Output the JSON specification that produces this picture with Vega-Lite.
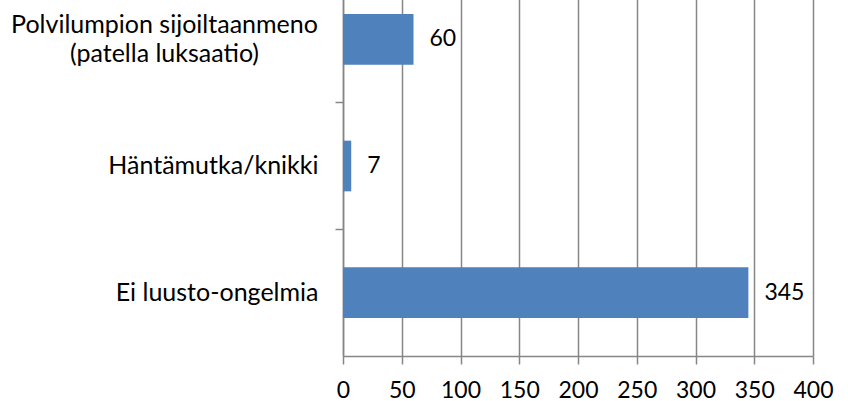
{
  "$schema": "https://vega.github.io/schema/vega-lite/v6.json",
  "width": 470,
  "height": 380,
  "autosize": {"type": "none"},
  "padding": {"left": 343, "top": -24, "right": 35, "bottom": 45},
  "background": "white",
  "data": {
    "values": [
      {"kategoria": "Polvilumpion sijoiltaanmeno (patella luksaatio)", "lukumaara": 60},
      {"kategoria": "Häntämutka/knikki", "lukumaara": 7},
      {"kategoria": "Ei luusto-ongelmia", "lukumaara": 345}
    ]
  },
  "config": {
    "view": {"stroke": null},
    "font": "Lato",
    "axis": {"labelFont": "Lato", "labelColor": "#000000"}
  },
  "encoding": {
    "y": {
      "field": "kategoria",
      "type": "nominal",
      "sort": null,
      "scale": {"paddingInner": 0, "paddingOuter": 0},
      "axis": {
        "title": null,
        "domainColor": "#868686",
        "domainWidth": 1.5,
        "tickColor": "#868686",
        "tickWidth": 1.5,
        "tickSize": 8,
        "bandPosition": 0,
        "tickExtra": true,
        "grid": false,
        "labelFontSize": 25,
        "labelLineHeight": 29,
        "labelLimit": 400,
        "labelExpr": "datum.value == 'Polvilumpion sijoiltaanmeno (patella luksaatio)' ? ['Polvilumpion sijoiltaanmeno', '(patella luksaatio)'] : datum.value",
        "labelAlign": {"condition": {"test": "datum.value == 'Polvilumpion sijoiltaanmeno (patella luksaatio)'", "value": "center"}, "value": "right"},
        "labelPadding": {"condition": {"test": "datum.value == 'Polvilumpion sijoiltaanmeno (patella luksaatio)'", "value": 171}, "value": 17},
        "labelOffset": {"condition": {"test": "datum.value == 'Polvilumpion sijoiltaanmeno (patella luksaatio)'", "value": -14}, "value": 0}
      }
    }
  },
  "layer": [
    {
      "mark": {"type": "bar", "color": "#4F81BD", "height": {"band": 0.4}},
      "encoding": {
        "x": {
          "field": "lukumaara",
          "type": "quantitative",
          "scale": {"domain": [0, 400], "nice": false},
          "axis": {
            "title": null,
            "values": [0, 50, 100, 150, 200, 250, 300, 350, 400],
            "grid": true,
            "gridColor": "#868686",
            "gridWidth": 1.5,
            "domainColor": "#868686",
            "domainWidth": 1.5,
            "tickColor": "#868686",
            "tickWidth": 1.5,
            "tickSize": 8,
            "labelFontSize": 23,
            "labelPadding": 15,
            "labelFlush": false
          }
        }
      }
    },
    {
      "mark": {"type": "text", "align": "left", "baseline": "middle", "dx": 16, "fontSize": 23, "font": "Lato", "color": "#000000"},
      "encoding": {
        "x": {"field": "lukumaara", "type": "quantitative"},
        "text": {"field": "lukumaara", "type": "quantitative"}
      }
    }
  ]
}
